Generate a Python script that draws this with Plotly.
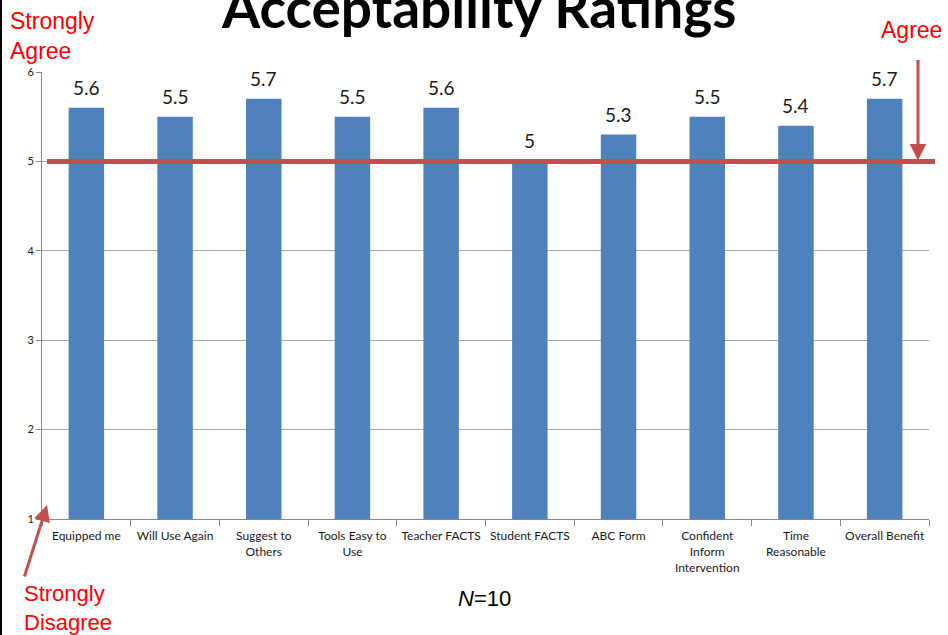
import plotly.graph_objects as go

categories = ["Equipped me", "Will Use Again", "Suggest to<br>Others", "Tools Easy to<br>Use",
              "Teacher FACTS", "Student FACTS", "ABC Form", "Confident<br>Inform<br>Intervention",
              "Time<br>Reasonable", "Overall Benefit"]
values = [5.6, 5.5, 5.7, 5.5, 5.6, 5.0, 5.3, 5.5, 5.4, 5.7]
value_labels = ["5.6", "5.5", "5.7", "5.5", "5.6", "5", "5.3", "5.5", "5.4", "5.7"]
agree_level = 5

W, H = 948, 635
L, R, T, B = 42, 19, 72, 116
pw = W - L - R
ph = H - T - B

fig = go.Figure()
fig.add_trace(go.Bar(
    x=categories, y=values, base=0,
    marker=dict(color="#4F81BD", line=dict(color="#4F81BD", width=0)),
    width=0.4,
    cliponaxis=False,
    hoverinfo="x+y",
))

red = "#C0504D"
shapes = [
    dict(type="line", xref="paper", yref="y", x0=5/pw, x1=(935-L)/pw, y0=agree_level, y1=agree_level,
         line=dict(color=red, width=5), layer="above"),
    dict(type="line", xref="paper", yref="paper", x0=-(L-1)/pw, x1=-(L-1)/pw, y0=-B/ph, y1=1+T/ph,
         line=dict(color="black", width=2)),
]

annotations = [
    dict(text="<b>Acceptability Ratings</b>", xref="paper", yref="paper",
         x=(478-L)/pw, y=1+(T-7)/ph, xanchor="center", yanchor="middle", showarrow=False,
         font=dict(family="Lato", size=55, color="black")),
    dict(text="Strongly<br>Agree", xref="paper", yref="paper", x=-(L-8)/pw, y=1+(T-6)/ph,
         xanchor="left", yanchor="top", align="left", showarrow=False,
         font=dict(family="Liberation Sans", size=23, color="#FF0000")),
    dict(text="Agree", xref="paper", yref="paper", x=1+(W-L-pw-4)/pw, y=1+(T-30)/ph,
         xanchor="right", yanchor="middle", showarrow=False,
         font=dict(family="Liberation Sans", size=23, color="#FF0000")),
    dict(text="Strongly<br>Disagree", xref="paper", yref="paper", x=-(L-22)/pw, y=-(579-T-ph)/ph,
         xanchor="left", yanchor="top", align="left", showarrow=False,
         font=dict(family="Liberation Sans", size=22, color="#FF0000")),
    dict(text="<i>N</i>=10", xref="paper", yref="paper", x=(484-L)/pw, y=-(598-T-ph)/ph,
         xanchor="center", yanchor="middle", showarrow=False,
         font=dict(family="Liberation Sans", size=22, color="black")),
    # arrows
    dict(text="", xref="paper", yref="y", x=(918-L)/pw, y=agree_level + 0.01,
         axref="pixel", ayref="pixel", ax=0, ay=-(160-58), showarrow=True,
         arrowhead=2, arrowsize=1.1, arrowwidth=3, arrowcolor=red),
    dict(text="", xref="paper", yref="paper", x=(47-L)/pw, y=-(505-T-ph)/ph,
         ax=-23, ay=73, showarrow=True,
         arrowhead=2, arrowsize=1.1, arrowwidth=3, arrowcolor=red),
]

# data labels above bars
for c, v, t in zip(categories, values, value_labels):
    annotations.append(dict(text=t, x=c, y=v, xref="x", yref="y", yanchor="bottom",
                            yshift=7, showarrow=False,
                            font=dict(family="Lato", size=19, color="#1a1a1a")))

fig.update_layout(
    width=W, height=H,
    margin=dict(l=L, r=R, t=T, b=B, autoexpand=False),
    paper_bgcolor="white", plot_bgcolor="white",
    showlegend=False,
    shapes=shapes, annotations=annotations,
    xaxis=dict(type="category", showgrid=False, showline=True, linecolor="#868686", linewidth=1,
               ticks="outside", ticklen=6, tickcolor="#868686", tickson="boundaries",
               ticklabelstandoff=6, tickangle=0, automargin=False,
               tickfont=dict(family="Lato", size=12, color="#1a1a1a"), fixedrange=True),
    yaxis=dict(range=[1, 6], dtick=1, tick0=1, showgrid=True, gridcolor="#A6A6A6", gridwidth=1,
               showline=True, linecolor="#868686", linewidth=1, ticks="outside", ticklen=5,
               tickcolor="#868686", tickfont=dict(family="Lato", size=11, color="#1a1a1a"),
               zeroline=False, fixedrange=True, automargin=False),
    bargap=0.6,
)

fig.write_html("out.html")
